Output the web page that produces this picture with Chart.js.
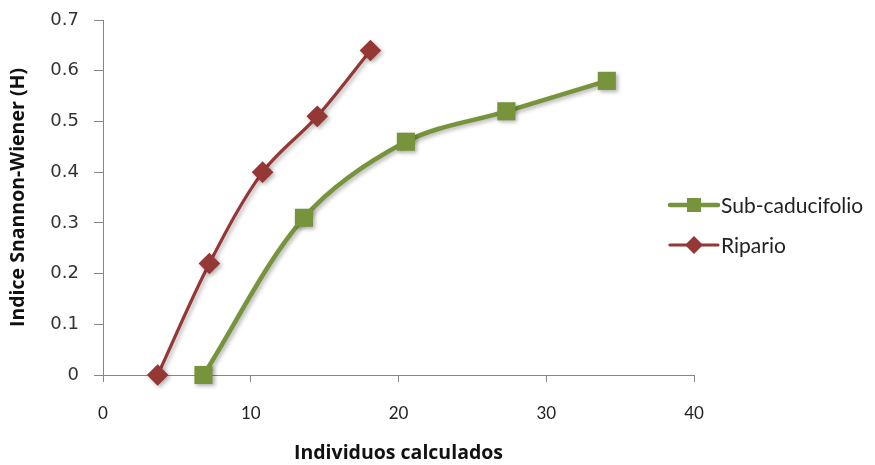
<!DOCTYPE html>
<html>
<head>
<meta charset="utf-8">
<script src="https://cdn.jsdelivr.net/npm/chart.js@4/dist/chart.umd.min.js"></script>
<style>
  html, body { margin: 0; padding: 0; background: #ffffff; }
  #wrap { width: 875px; height: 465px; }
</style>
</head>
<body>
<div id="wrap"><canvas id="c" width="875" height="465"></canvas></div>
<script>
// Species accumulation: Shannon-Wiener index versus individuals counted
const seriesNames = ['Sub-caducifolio', 'Ripario'];
const subIndividuos = [6.8, 13.6, 20.5, 27.3, 34.1];
const subShannon    = [0, 0.31, 0.46, 0.52, 0.58];
const ripIndividuos = [3.7, 7.2, 10.8, 14.5, 18.1];
const ripShannon    = [0, 0.22, 0.40, 0.51, 0.64];
const xTicks = [0, 10, 20, 30, 40];
const yTicks = [0, 0.1, 0.2, 0.3, 0.4, 0.5, 0.6, 0.7];
const xTitle = 'Individuos calculados';
const yTitle = 'Indice Snannon-Wiener (H)';

const GREEN = '#77933C';
const RED = '#953735';
const AXIS = '#868686';

const toPoints = (xs, ys) => xs.map((x, i) => ({ x: x, y: ys[i] }));

const styles = [
  { color: GREEN, width: 4.5, point: 'rect', radius: 12.8 },
  { color: RED, width: 3.2, point: 'rectRot', radius: 10.8 }
];

// soft drop shadow under lines and markers
const shadowPlugin = {
  id: 'softShadow',
  beforeDatasetsDraw(chart) {
    const ctx = chart.ctx;
    ctx.save();
    ctx.shadowColor = 'rgba(0,0,0,0.30)';
    ctx.shadowBlur = 4;
    ctx.shadowOffsetX = 2;
    ctx.shadowOffsetY = 2;
  },
  afterDatasetsDraw(chart) {
    chart.ctx.restore();
  }
};

// legend on the right: a short line with the series marker, then the name
const sideLegend = {
  id: 'sideLegend',
  afterDraw(chart) {
    const ctx = chart.ctx;
    const x0 = 670, x1 = 718, tx = 721;
    const rows = [205, 245];
    chart.data.datasets.forEach((ds, i) => {
      const y = rows[i];
      const st = styles[i];
      ctx.save();
      ctx.strokeStyle = st.color;
      ctx.lineWidth = st.width;
      ctx.lineCap = 'round';
      ctx.beginPath();
      ctx.moveTo(x0, y);
      ctx.lineTo(x1, y);
      ctx.stroke();
      ctx.fillStyle = st.color;
      const cx = (x0 + x1) / 2;
      if (st.point === 'rect') {
        ctx.fillRect(cx - 7, y - 7, 14, 14);
      } else {
        ctx.beginPath();
        ctx.moveTo(cx - 9, y);
        ctx.lineTo(cx, y - 9);
        ctx.lineTo(cx + 9, y);
        ctx.lineTo(cx, y + 9);
        ctx.closePath();
        ctx.fill();
      }
      ctx.fillStyle = '#222222';
      ctx.font = '21px Lato';
      ctx.textAlign = 'left';
      ctx.textBaseline = 'middle';
      ctx.fillText(ds.label, tx, y + 1);
      ctx.restore();
    });
  }
};

new Chart(document.getElementById('c'), {
  type: 'scatter',
  data: {
    datasets: [
      {
        label: seriesNames[0],
        data: toPoints(subIndividuos, subShannon),
        showLine: true,
        borderColor: GREEN,
        backgroundColor: GREEN,
        borderWidth: styles[0].width,
        tension: 0.33,
        pointStyle: styles[0].point,
        pointRadius: styles[0].radius,
        pointBorderWidth: 0,
        pointBackgroundColor: GREEN,
        clip: false
      },
      {
        label: seriesNames[1],
        data: toPoints(ripIndividuos, ripShannon),
        showLine: true,
        borderColor: RED,
        backgroundColor: RED,
        borderWidth: styles[1].width,
        tension: 0.33,
        pointStyle: styles[1].point,
        pointRadius: styles[1].radius,
        pointBorderWidth: 0,
        pointBackgroundColor: RED,
        clip: false
      }
    ]
  },
  options: {
    responsive: false,
    animation: false,
    events: [],
    layout: { padding: { left: 0, top: 20, right: 181, bottom: 0 } },
    plugins: {
      legend: { display: false },
      tooltip: { enabled: false }
    },
    scales: {
      x: {
        type: 'linear',
        min: 0,
        max: 40,
        afterBuildTicks(scale) { scale.ticks = xTicks.map(v => ({ value: v })); },
        afterFit(scale) {
          scale.height = 90;
          scale.paddingLeft = 0;
          scale.paddingRight = 0;
        },
        border: { color: AXIS, width: 1 },
        grid: { drawOnChartArea: false, drawTicks: true, tickLength: 7, color: AXIS },
        ticks: {
          color: '#222222',
          font: { family: 'Lato', size: 17 },
          padding: 21,
          callback: v => String(v)
        },
        title: {
          display: true,
          text: xTitle,
          color: '#111111',
          font: { family: 'Open Sans', size: 19.5, weight: 'bold' },
          padding: { top: 0, bottom: 0 }
        }
      },
      y: {
        type: 'linear',
        min: 0,
        max: 0.7,
        afterBuildTicks(scale) { scale.ticks = yTicks.map(v => ({ value: v })); },
        afterFit(scale) {
          scale.width = 103;
          scale.paddingTop = 0;
          scale.paddingBottom = 0;
        },
        border: { color: AXIS, width: 1 },
        grid: { drawOnChartArea: false, drawTicks: true, tickLength: 9, color: AXIS },
        ticks: {
          color: '#333333',
          font: { family: 'DejaVu Sans', size: 18 },
          padding: 15,
          callback: v => (v === 0 ? '0' : v.toFixed(1))
        },
        title: {
          display: true,
          text: yTitle,
          color: '#111111',
          font: { family: 'Open Sans', size: 19.5, weight: 'bold' },
          padding: { top: 7, bottom: 0 }
        }
      }
    }
  },
  plugins: [shadowPlugin, sideLegend]
});
</script>
</body>
</html>
